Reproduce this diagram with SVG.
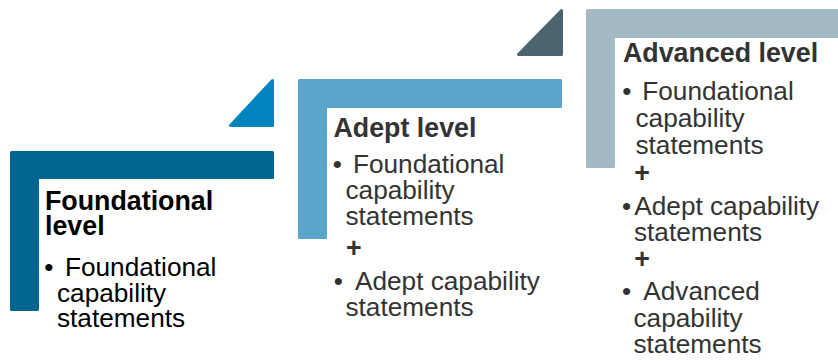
<svg xmlns="http://www.w3.org/2000/svg" width="838" height="361" viewBox="0 0 838 361">
<style>
.sh{stroke-width:3;stroke-linejoin:round}
.s1{fill:#00668F;stroke:#00668F}
.s2{fill:#5BA4CB;stroke:#5BA4CB}
.s3{fill:#A3B9C4;stroke:#A3B9C4}
.t1{fill:#0284BE;stroke:#0284BE}
.t2{fill:#4A6570;stroke:#4A6570}
text{font-family:"Liberation Sans",Arial,sans-serif;font-size:26.2px}
.b{font-weight:bold;font-size:26.8px}
.k{fill:#000}
.g{fill:#333}
</style>
<rect width="838" height="361" fill="#fff"/>
<g id="connectors"></g>
<g id="triangle1"><polygon class="sh t1" points="272.5,80.5 272.5,125.5 230.5,125.5"/></g>
<g id="triangle2"><polygon class="sh t2" points="561.5,10.5 561.5,54.5 518.5,54.5"/></g>
<g id="foundational">
<path class="sh s1" d="M11.5,152.5 H272.5 V177.5 H37.5 V309.5 H11.5 Z"/>
<g class="k">
<text class="b" x="45" y="210">Foundational</text>
<text class="b" x="45" y="235">level</text>
<text x="44.3" y="276">•</text><text x="65" y="276">Foundational</text>
<text x="57" y="301.5">capability</text>
<text x="57" y="326.5">statements</text>
</g>
</g>
<g id="adept">
<path class="sh s2" d="M299.5,80.5 H560.5 V106.5 H325.5 V237.5 H299.5 Z"/>
<g class="g">
<text class="b" x="333.5" y="136.5">Adept level</text>
<text x="332.8" y="173">•</text><text x="353" y="173">Foundational</text>
<text x="345.5" y="199">capability</text>
<text x="345.5" y="224.5">statements</text>
<text class="b" x="346" y="257">+</text>
<text x="333.8" y="290">•</text><text x="355" y="290">Adept capability</text>
<text x="345.5" y="316">statements</text>
</g>
</g>
<g id="advanced">
<path class="sh s3" d="M587.5,10.5 H845 V36.5 H613.5 V166.5 H587.5 Z"/>
<g class="g">
<text class="b" x="623" y="61.5">Advanced level</text>
<text x="622.3" y="100">•</text><text x="642.3" y="100">Foundational</text>
<text x="635.5" y="127">capability</text>
<text x="635.5" y="154">statements</text>
<text class="b" x="634.2" y="182.3">+</text>
<text x="622" y="215">•</text><text x="634.3" y="215">Adept capability</text>
<text x="634" y="241">statements</text>
<text class="b" x="634.2" y="268">+</text>
<text x="622" y="300">•</text><text x="643.3" y="300">Advanced</text>
<text x="633.5" y="326.7">capability</text>
<text x="633.5" y="352.7">statements</text>
</g>
</g>
</svg>
